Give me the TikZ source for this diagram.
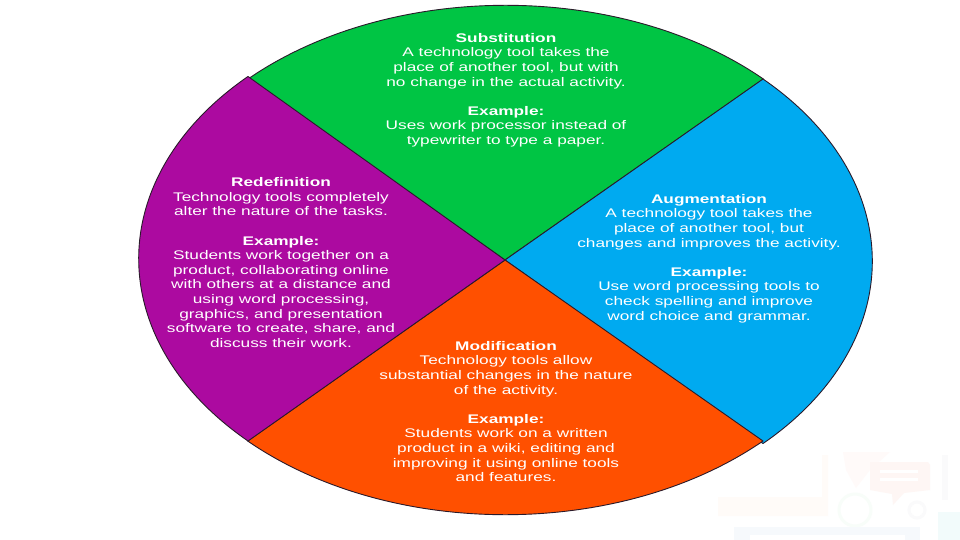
\documentclass[tikz,border=0pt]{standalone}
\usepackage{fontspec}
\setmainfont[FakeStretch=1.38]{Liberation Sans}
\definecolor{cgreen}{HTML}{00C544}
\definecolor{cblue}{HTML}{00AAF0}
\definecolor{corange}{HTML}{FF5000}
\definecolor{cpurple}{HTML}{AC0AA0}
\definecolor{edge}{HTML}{2A1A2A}
\definecolor{fainto}{HTML}{FFFBF8}
\definecolor{faintr}{HTML}{FEF6F4}
\definecolor{faintrb}{HTML}{FFFAF9}
\definecolor{faintg}{HTML}{F8FDF9}
\definecolor{faintb}{HTML}{F6F9FC}
\definecolor{faintt}{HTML}{F2FBFB}
\definecolor{faintk}{HTML}{FAFAFB}
\tikzset{
  sector/.style={draw=edge,line width=0.9pt,line join=round},
  lbl/.style={text=white,align=center,font=\fontsize{12.5}{14.6}\selectfont,inner sep=0pt,anchor=north},
}
\newcommand{\hd}[1]{\textbf{#1}}
\begin{document}
\begin{tikzpicture}[x=1pt,y=-1pt]
\useasboundingbox (0,0) rectangle (960,540);
\fill[white] (0,0) rectangle (960,540);
% faint background decoration
\fill[fainto] (718,497) -- (822,497) -- (822,455) -- (828,455) -- (828,516) -- (718,516) -- cycle;
\fill[faintrb] (843,452) -- (890,452) -- (870,470) -- (856,488) -- (846,470) -- cycle;
\fill[faintr] (870,462) -- (928,462) -- (930,465) -- (930,490) -- (904,493) -- (893,505) -- (892,494) -- (870,490) -- cycle;
\fill[white] (880,470) rectangle (918,473);
\fill[white] (880,478) rectangle (918,481);
\draw[faintg,line width=3pt] (855,510) circle (16);
\draw[faintk,line width=3pt] (917,510) circle (8);
\fill[faintk] (942,455) rectangle (948,500);
\fill[faintb] (734,527) rectangle (920,540);
\fill[white] (750,535) rectangle (905,540);
\fill[faintt] (938,512) rectangle (960,540);
\coordinate (c) at (505,260);
\def\rx{367}\def\ry{256}
\coordinate (nw) at (248,79);
\coordinate (ne) at (763,79);
\coordinate (sw) at (248,441);
\coordinate (se) at (763,441);
\path[sector,fill=cgreen] (c) -- (nw) arc[start angle=-134.6,end angle=-45.4,x radius=\rx,y radius=\ry] -- cycle;
\path[sector,fill=cblue] (c) -- (ne) arc[start angle=-45.4,end angle=45.4,x radius=\rx,y radius=\ry] -- cycle;
\path[sector,fill=corange] (c) -- (se) arc[start angle=45.4,end angle=134.6,x radius=\rx,y radius=\ry] -- cycle;
\path[sector,fill=cpurple] (c) -- (sw) arc[start angle=134.6,end angle=225.4,x radius=\rx,y radius=\ry] -- cycle;
\node[lbl] (sub) at (506,33) {\hd{Substitution}\\A technology tool takes the\\place of another tool, but with\\no change in the actual activity.\\[14.6pt]\hd{Example:}\\Uses work processor instead of\\typewriter to type a paper.};
\node[lbl] (aug) at (709,194) {\hd{Augmentation}\\A technology tool takes the\\place of another tool, but\\changes and improves the activity.\\[14.6pt]\hd{Example:}\\Use word processing tools to\\check spelling and improve\\word choice and grammar.};
\node[lbl] (mod) at (506,341) {\hd{Modification}\\Technology tools allow\\substantial changes in the nature\\of the activity.\\[14.6pt]\hd{Example:}\\Students work on a written\\product in a wiki, editing and\\improving it using online tools\\and features.};
\node[lbl] (red) at (281,177.5) {\hd{Redefinition}\\Technology tools completely\\alter the nature of the tasks.\\[14.6pt]\hd{Example:}\\Students work together on a\\product, collaborating online\\with others at a distance and\\using word processing,\\graphics, and presentation\\software to create, share, and\\discuss their work.};
\end{tikzpicture}
\end{document}
